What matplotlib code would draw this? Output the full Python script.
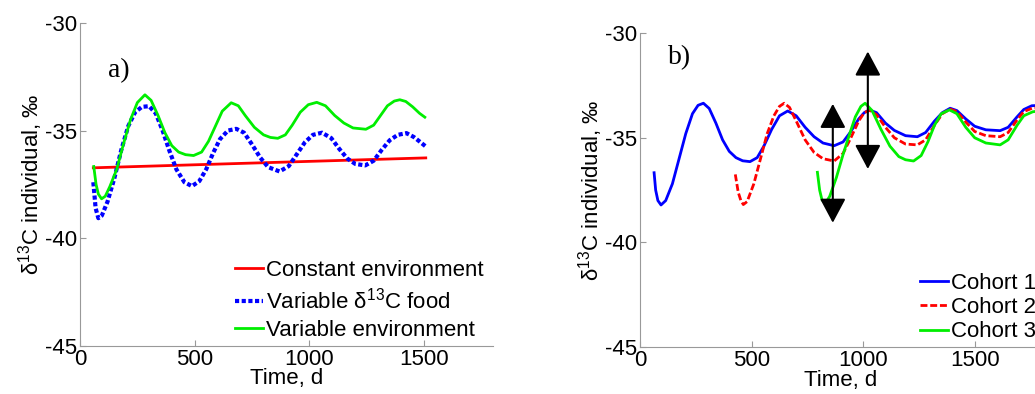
import matplotlib
matplotlib.use("Agg")
import matplotlib.pyplot as plt

plt.rcParams['font.family'] = ['Liberation Sans', 'DejaVu Sans']
plt.rcParams['mathtext.fontset'] = 'custom'
plt.rcParams['mathtext.rm'] = 'Liberation Sans'
plt.rcParams['mathtext.it'] = 'Liberation Sans:italic'
plt.rcParams['axes.unicode_minus'] = False

# panel a) data (read from the picture)
const_t = [58, 1507]
const_d = [-36.73, -36.27]

food_t = [58, 68, 80, 95, 120, 150, 180, 210, 240, 270, 301, 330, 360, 390, 420, 455, 488,
          520, 550, 580, 610, 645, 681, 715, 750, 785, 820, 870, 910, 945, 980, 1015, 1055,
          1095, 1130, 1165, 1200, 1243, 1280, 1315, 1350, 1385, 1423, 1455, 1485, 1507]
food_d = [-37.4, -38.6, -39.07, -38.95, -38.3, -37.2, -35.9, -34.8, -34.15, -33.9, -33.87,
          -34.2, -35.0, -35.95, -36.8, -37.4, -37.58, -37.35, -36.8, -36.05, -35.4, -35.0,
          -34.92, -35.1, -35.65, -36.25, -36.7, -36.9, -36.65, -36.1, -35.55, -35.2, -35.1,
          -35.35, -35.85, -36.3, -36.55, -36.62, -36.4, -35.9, -35.45, -35.2, -35.12, -35.3,
          -35.55, -35.74]

env_t = [60, 70, 80, 94, 110, 130, 160, 190, 220, 250, 283, 310, 340, 370, 400, 430, 460,
         495, 530, 560, 590, 620, 659, 690, 720, 760, 800, 830, 862, 895, 925, 960, 995,
         1032, 1070, 1110, 1150, 1190, 1246, 1280, 1310, 1340, 1370, 1394, 1420, 1450,
         1480, 1503]
env_d = [-36.67, -37.5, -37.95, -38.17, -38.05, -37.6, -36.8, -35.6, -34.5, -33.7, -33.34,
         -33.6, -34.3, -35.1, -35.7, -36.0, -36.12, -36.16, -36.0, -35.5, -34.8, -34.1,
         -33.71, -33.85, -34.3, -34.85, -35.2, -35.32, -35.36, -35.2, -34.75, -34.15, -33.8,
         -33.69, -33.85, -34.3, -34.65, -34.88, -34.94, -34.75, -34.3, -33.85, -33.63,
         -33.57, -33.65, -33.9, -34.2, -34.38]

# panel b) data
c1_t = [63, 70, 80, 94, 115, 145, 175, 205, 235, 260, 284, 310, 340, 370, 400, 430, 460,
        493, 525, 555, 590, 625, 662, 700, 740, 780, 820, 870, 910, 945, 980, 1005, 1028,
        1060, 1100, 1140, 1190, 1243, 1280, 1320, 1355, 1390, 1420, 1460, 1500, 1550,
        1614, 1650, 1690, 1720, 1756, 1800]
c1_d = [-36.67, -37.5, -38.0, -38.21, -38.0, -37.2, -36.0, -34.8, -33.85, -33.45, -33.35,
        -33.6, -34.3, -35.1, -35.65, -35.95, -36.1, -36.14, -35.95, -35.4, -34.6, -33.95,
        -33.72, -33.95, -34.5, -34.95, -35.25, -35.38, -35.2, -34.7, -34.1, -33.8, -33.67,
        -33.8, -34.3, -34.65, -34.9, -34.95, -34.75, -34.2, -33.8, -33.59, -33.7, -34.1,
        -34.45, -34.62, -34.66, -34.5, -34.0, -33.65, -33.47, -33.45]

c2_t = [427, 440, 452, 463, 480, 510, 540, 570, 600, 625, 646, 670, 700, 740, 780, 820,
        870, 910, 945, 980, 1005, 1028, 1060, 1100, 1140, 1190, 1243, 1280, 1320, 1355,
        1390, 1420, 1460, 1500, 1550, 1614, 1650, 1690, 1720, 1760, 1800]
c2_d = [-36.75, -37.6, -38.0, -38.19, -38.05, -37.2, -36.0, -34.8, -33.95, -33.5, -33.35,
        -33.55, -34.2, -35.1, -35.7, -36.0, -36.11, -35.75, -35.0, -34.2, -33.8, -33.69,
        -33.9, -34.5, -35.0, -35.3, -35.34, -35.1, -34.4, -33.85, -33.63, -33.75, -34.25,
        -34.7, -34.9, -34.95, -34.75, -34.15, -33.75, -33.58, -33.55]

c3_t = [795, 805, 815, 830, 850, 880, 910, 940, 965, 990, 1009, 1040, 1080, 1120, 1160,
        1190, 1226, 1260, 1290, 1320, 1350, 1387, 1420, 1460, 1500, 1550, 1614, 1650, 1690,
        1720, 1760, 1800]
c3_d = [-36.65, -37.5, -37.95, -38.14, -37.8, -36.9, -35.8, -34.8, -34.0, -33.5, -33.35,
        -33.7, -34.6, -35.4, -35.9, -36.05, -36.11, -35.85, -35.2, -34.4, -33.85, -33.67,
        -33.85, -34.5, -35.0, -35.25, -35.34, -35.1, -34.4, -33.95, -33.76, -33.7]

# double arrows in b): x, lower end, upper end
arrow_x = [864, 1021]
arrow_lo = [-39.06, -36.49]
arrow_hi = [-33.38, -30.88]

xticks = [0, 500, 1000, 1500]
yticks = [-45, -40, -35, -30]

fig = plt.figure(figsize=(10.35, 3.94), dpi=100)
ax1 = fig.add_axes([0.0773, 0.122, 0.399, 0.82])
ax2 = fig.add_axes([0.6184, 0.119, 0.388, 0.797])

ylab = "\u03b4$^{13}$C individual, \u2030"

for ax in (ax1, ax2):
    ax.set_xlim(0, 1800)
    ax.set_ylim(-45, -30)
    ax.set_xticks(xticks)
    ax.set_yticks(yticks)
    for s in ["top", "right"]:
        ax.spines[s].set_visible(False)
    for s in ["left", "bottom"]:
        ax.spines[s].set_color("#999999")
    ax.tick_params(direction="in", length=4, color="#999999", labelsize=16, pad=2)
    ax.set_xlabel("Time, d", fontsize=16, labelpad=-1)
    ax.set_ylabel(ylab, fontsize=16, labelpad=0)

ax1.plot(const_t, const_d, color="#ff0000", lw=2, label="Constant environment")
ax1.plot(food_t, food_d, color="#0000ff", lw=3, ls=(0, (1, 0.6)), label="Variable \u03b4$^{13}$C food")
ax1.plot(env_t, env_d, color="#00ee00", lw=2, label="Variable environment")
ax1.text(122, -32.23, "a)", family="Liberation Serif", fontsize=20, va="center")
ax1.legend(loc="lower left", bbox_to_anchor=(0.375, 0.015), frameon=False, fontsize=16,
           handlelength=1.25, handletextpad=0.15, labelspacing=0.3, borderpad=0, borderaxespad=0)

ax2.plot(c1_t, c1_d, color="#0000ff", lw=2, label="Cohort 1")
ax2.plot(c2_t, c2_d, color="#ff0000", lw=2, ls=(0, (2.5, 1)), label="Cohort 2")
ax2.plot(c3_t, c3_d, color="#00ee00", lw=2, label="Cohort 3")
for xa, lo, hi in zip(arrow_x, arrow_lo, arrow_hi):
    ax2.annotate("", xy=(xa, hi), xytext=(xa, lo),
                 arrowprops=dict(arrowstyle="<|-|>,head_length=0.75,head_width=0.4",
                                 mutation_scale=20, color="black", lw=1.5,
                                 shrinkA=0, shrinkB=0))
ax2.text(126, -31.18, "b)", family="Liberation Serif", fontsize=20, va="center")
ax2.legend(loc="lower left", bbox_to_anchor=(0.698, 0.015), frameon=False, fontsize=16,
           handlelength=1.25, handletextpad=0.15, labelspacing=0.15, borderpad=0, borderaxespad=0)

fig.savefig("out.png", dpi=100)
